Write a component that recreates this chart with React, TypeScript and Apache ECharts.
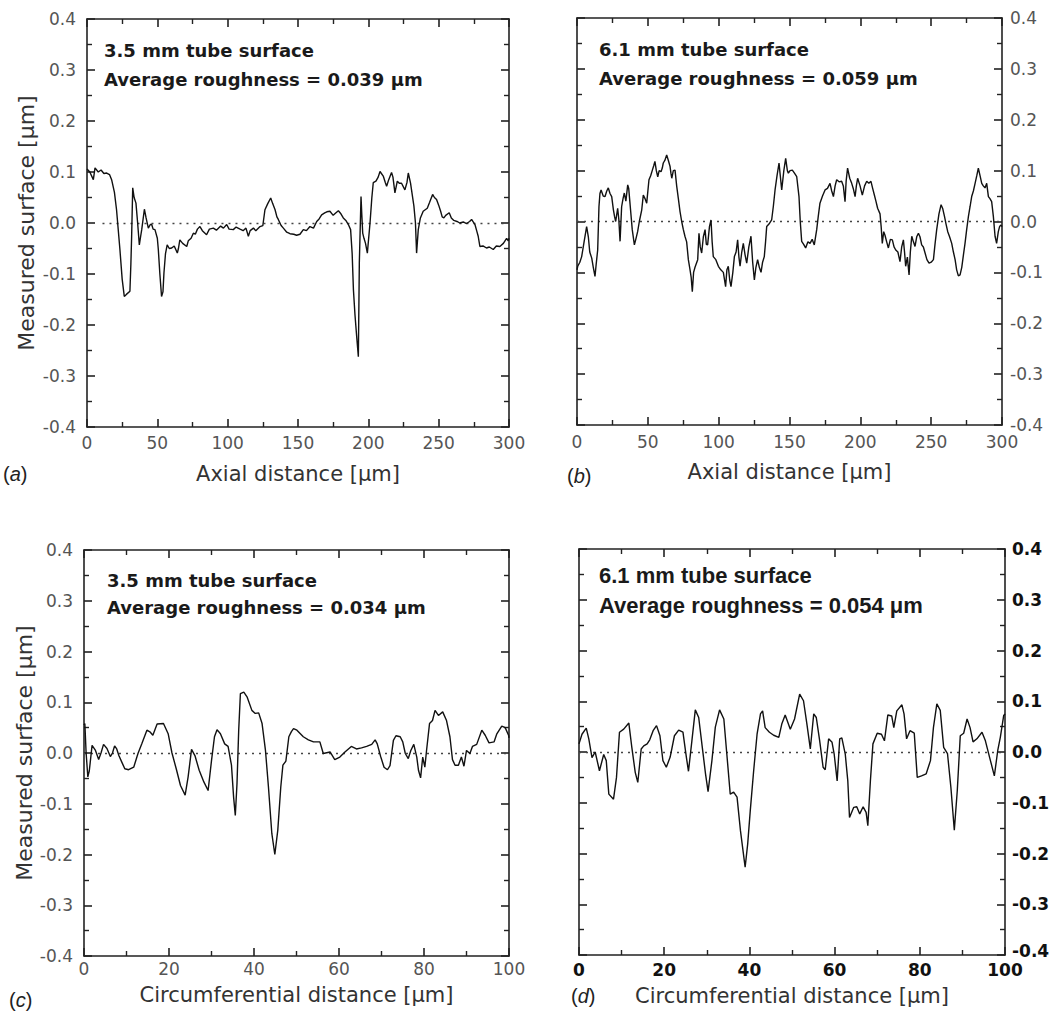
import React, { useEffect, useRef } from "react";
import * as echarts from "echarts";

// ---------- DATA ----------
// (a) 3.5 mm tube, axial profile: [distance µm, height µm]
const profileA: number[][] = [
  [0, 0.106], [2, 0.1], [4.5, 0.085], [5.7, 0.108], [8, 0.1], [10, 0.104], [12, 0.097], [14, 0.098], [16, 0.095],
  [17.5, 0.085], [19.5, 0.06], [21, 0.026], [23.4, -0.052], [25, -0.11], [26.5, -0.144], [28, -0.14], [30.5, -0.134],
  [31.2, -0.08], [31.7, -0.03], [32.5, 0.069], [33.5, 0.05], [34.8, 0.039], [36, 0.0], [37.2, -0.043], [38.2, -0.025],
  [38.9, -0.013], [40.8, 0.027], [42, 0.01], [43.6, -0.01], [45, -0.003], [46, -0.003], [47, -0.012], [48.3, -0.013],
  [50, -0.03], [50.7, -0.052], [51.8, -0.1], [53, -0.144], [54, -0.135], [54.7, -0.098], [55.8, -0.06], [57, -0.043],
  [58.5, -0.05], [60.2, -0.049], [62, -0.045], [64.2, -0.059], [65, -0.05], [66, -0.033], [68, -0.04], [70.9, -0.046],
  [72, -0.035], [74, -0.03], [75.6, -0.02], [77, -0.022], [78.5, -0.012], [80.3, -0.007], [82, -0.015], [85, -0.023],
  [87, -0.012], [89.8, -0.01], [92, -0.014], [95, -0.006], [97, -0.01], [99.3, -0.003], [101, -0.012], [104, -0.013],
  [106, -0.008], [108.8, -0.012], [111, -0.015], [113, -0.01], [114.7, -0.026], [116, -0.015], [118.3, -0.01],
  [120, -0.015], [123, -0.007], [125, -0.005], [126.5, 0.026], [128.5, 0.038], [130.6, 0.049], [132, 0.038],
  [133.7, 0.026], [135, 0.012], [136, 0.007], [138, -0.005], [139.6, -0.01], [142, -0.018], [144.3, -0.021],
  [147, -0.022], [149, -0.024], [151.4, -0.022], [153.8, -0.013], [156, -0.015], [158.5, -0.007], [161, -0.01],
  [163.3, 0.003], [165, 0.008], [166.8, 0.016], [169, 0.02], [170.5, 0.022], [172.7, 0.023], [175, 0.015], [177, 0.02],
  [178.7, 0.024], [180.5, 0.018], [182.2, 0.01], [184, 0.005], [185.8, -0.003], [187.4, -0.013], [188.5, -0.06],
  [189.4, -0.131], [190.5, -0.18], [191.7, -0.222], [192.9, -0.262], [193.6, -0.078], [194.8, 0.052], [195.3, 0.02],
  [196, -0.02], [196.9, -0.03], [198, -0.04], [199.3, -0.059], [201.2, 0.0], [202.5, 0.05], [203.5, 0.079],
  [205.4, 0.082], [207, 0.09], [208.3, 0.101], [210.6, 0.092], [212, 0.08], [213, 0.072], [214.5, 0.085],
  [216.5, 0.099], [217.5, 0.09], [218.9, 0.059], [220.6, 0.082], [222, 0.078], [223.6, 0.078], [226, 0.065],
  [227.5, 0.08], [228.4, 0.098], [230, 0.078], [232.4, 0.033], [233.5, 0.0], [234.3, -0.059], [235.5, -0.013],
  [237, 0.01], [239, 0.023], [241.9, 0.029], [243.5, 0.04], [245.7, 0.056], [247, 0.05], [248.5, 0.046], [250, 0.035],
  [251.4, 0.023], [252.5, 0.012], [253.7, 0.01], [255, 0.015], [257.5, 0.02], [259, 0.01], [260.8, 0.005],
  [263, 0.003], [265, 0.0], [267.5, 0.002], [269.8, -0.001], [272, 0.003], [273.4, 0.007], [275.8, -0.003],
  [277, -0.015], [278.1, -0.026], [279.3, -0.046], [281.5, -0.045], [284, -0.049], [286, -0.047], [288.8, -0.052],
  [291, -0.045], [293.5, -0.046], [296, -0.04], [298.3, -0.03], [299.5, -0.035], [300, -0.03],
];

// (b) 6.1 mm tube, axial profile
const profileB: number[][] = [
  [0, -0.095], [0.5, -0.088], [2, -0.08], [3.3, -0.069], [5, -0.04], [6.8, -0.01], [8, -0.03], [9, -0.06],
  [10.4, -0.072], [11.5, -0.09], [12.7, -0.108], [13.5, -0.085], [14.6, -0.056], [15.5, 0.029], [16.2, 0.055],
  [17, 0.062], [18.5, 0.05], [19.8, 0.049], [21, 0.06], [22.1, 0.066], [23.3, 0.055], [24.5, 0.049], [25.7, 0.023],
  [26.5, 0.01], [27.3, 0.0], [28.7, 0.026], [29.5, 0.005], [30.4, -0.039], [31.5, 0.029], [32.5, 0.045],
  [33.4, 0.056], [34.5, 0.04], [35.8, 0.072], [36.5, 0.065], [37.4, 0.036], [39, -0.016], [40.5, -0.046],
  [41.5, -0.035], [42.8, -0.02], [44, 0.0], [45.7, 0.023], [46.8, 0.052], [48, 0.045], [49.2, 0.036], [50.8, 0.082],
  [52, 0.09], [53.2, 0.101], [54.2, 0.11], [55, 0.118], [56, 0.1], [57, 0.088], [58, 0.1], [59.3, 0.098],
  [60.2, 0.105], [60.9, 0.115], [62, 0.12], [63.3, 0.131], [64.5, 0.12], [65.7, 0.108], [66.3, 0.095], [66.9, 0.085],
  [68, 0.1], [69.2, 0.101], [70.4, 0.069], [71.5, 0.046], [72.7, 0.02], [73.9, 0.0], [75, -0.015], [76.2, -0.029],
  [77.4, -0.04], [78.6, -0.075], [79.8, -0.095], [80.6, -0.11], [81.4, -0.138], [82.3, -0.1], [83.3, -0.09],
  [85.2, -0.075], [86.1, -0.023], [87, -0.05], [88, -0.062], [89.2, -0.03], [90.4, -0.016], [91.3, -0.045],
  [92.2, -0.046], [93.5, -0.01], [94.6, 0.003], [95.4, -0.04], [96.2, -0.069], [98, -0.075], [99.8, -0.088],
  [101.5, -0.095], [103.3, -0.1], [104.9, -0.128], [105.8, -0.095], [106.8, -0.088], [107.8, -0.115],
  [108.7, -0.128], [110, -0.1], [111.1, -0.069], [112.3, -0.06], [113.4, -0.036], [114.3, -0.07], [115.1, -0.088],
  [116.3, -0.06], [117.4, -0.043], [118.6, -0.065], [119.8, -0.082], [121.3, -0.05], [122.8, -0.029], [124, -0.08],
  [125.2, -0.115], [126.3, -0.09], [127.5, -0.075], [128.7, -0.09], [129.9, -0.1], [131, -0.08], [132.2, -0.069],
  [133.1, -0.04], [133.9, -0.01], [135.5, -0.005], [137.4, 0.003], [138.6, 0.03], [139.8, 0.062], [141.2, 0.09],
  [142.6, 0.115], [143.5, 0.09], [144.5, 0.062], [146, 0.1], [147.3, 0.124], [148.5, 0.1], [149.2, 0.095],
  [150.4, 0.1], [152, 0.101], [153.5, 0.095], [155.1, 0.088], [156.7, 0.049], [157.6, 0.0], [158.6, -0.039],
  [160, -0.045], [161.4, -0.052], [163, -0.04], [164.5, -0.043], [166, -0.035], [167.5, -0.046], [169.2, -0.016],
  [170.3, 0.01], [171.5, 0.036], [173.3, 0.05], [175.1, 0.062], [176.8, 0.065], [178.6, 0.075], [179.8, 0.06],
  [181, 0.049], [182.2, 0.07], [183.3, 0.082], [185, 0.078], [186.8, 0.079], [188, 0.07], [189.2, 0.039], [190, 0.08],
  [191, 0.105], [192.5, 0.085], [193.9, 0.075], [195, 0.065], [196.3, 0.049], [197.2, 0.07], [198.1, 0.085],
  [199.8, 0.07], [201.4, 0.052], [203, 0.07], [204.5, 0.079], [206, 0.075], [207.5, 0.079], [208.7, 0.065],
  [209.9, 0.052], [211, 0.04], [212.2, 0.026], [213.9, 0.015], [214.7, -0.01], [215.5, -0.043], [216.5, -0.02],
  [217.4, -0.027], [218.6, -0.04], [219.8, -0.052], [221.2, -0.035], [222.6, -0.036], [223.8, -0.05], [225, -0.056],
  [226.5, -0.06], [228, -0.079], [229.2, -0.05], [230.4, -0.036], [231.2, -0.06], [232, -0.088], [233.2, -0.07],
  [234.4, -0.105], [235.3, -0.06], [236.3, -0.029], [237.5, -0.04], [238.6, -0.049], [239.8, -0.03], [241, -0.023],
  [242.1, -0.03], [243.3, -0.046], [244.5, -0.05], [245.7, -0.062], [247, -0.075], [248.5, -0.082], [250, -0.08],
  [251.6, -0.075], [252.7, -0.045], [253.9, -0.016], [255.5, 0.015], [257, 0.033], [258.2, 0.025], [259.4, 0.01],
  [260.5, -0.005], [261.7, -0.02], [263, -0.03], [264.5, -0.043], [265.7, -0.06], [266.9, -0.075], [268, -0.095],
  [269.2, -0.107], [270.4, -0.105], [271.6, -0.09], [272.8, -0.065], [273.9, -0.043], [275.1, -0.015], [276.3, 0.01],
  [277.5, 0.03], [278.6, 0.049], [279.8, 0.06], [281, 0.075], [282.2, 0.09], [283.3, 0.105], [284.5, 0.09],
  [285.7, 0.075], [286.8, 0.07], [288, 0.066], [289.2, 0.075], [290.4, 0.049], [291.5, 0.045], [292.7, 0.039],
  [293.9, 0.01], [295.1, -0.029], [296.2, -0.043], [297.4, -0.02], [298.3, -0.01], [299.3, -0.007], [300, -0.01],
];

// (c) 3.5 mm tube, circumferential profile
const profileC: number[][] = [
  [0, 0.055], [0.2, 0.058], [0.5, 0.0], [0.9, -0.047], [1.25, -0.035], [1.9, 0.015], [2.7, 0.005], [3.45, -0.013],
  [4.0, 0.0], [4.6, 0.017], [5.4, 0.009], [6.2, -0.007], [6.7, 0.0], [7.2, 0.014], [7.7, 0.008], [8.2, -0.005],
  [9, -0.02], [9.6, -0.031], [10.5, -0.033], [11.7, -0.028], [12.7, -0.001], [13.6, 0.018], [14.8, 0.045],
  [15.6, 0.041], [16.2, 0.035], [17.2, 0.057], [18.7, 0.058], [19.8, 0.038], [20.7, 0.0], [21.7, -0.031],
  [22.7, -0.064], [23.8, -0.083], [24.5, -0.047], [25.3, 0.007], [26.1, -0.005], [27.1, -0.034], [28.2, -0.057],
  [29.2, -0.074], [30, -0.015], [30.7, 0.032], [31.3, 0.046], [32.1, 0.038], [33.1, 0.018], [33.9, 0.013],
  [34.7, -0.024], [35.2, -0.087], [35.6, -0.123], [36, -0.06], [36.4, 0.045], [36.8, 0.117], [37.6, 0.12],
  [38.4, 0.11], [39.5, 0.084], [40.3, 0.078], [41.1, 0.079], [41.9, 0.058], [42.7, 0.005], [43.4, -0.067],
  [44.2, -0.159], [44.9, -0.2], [45.6, -0.152], [46.3, -0.067], [46.8, -0.024], [47.5, -0.016], [48.2, 0.032],
  [48.8, 0.042], [49.3, 0.048], [50.1, 0.045], [51.6, 0.032], [52.8, 0.026], [54, 0.022], [55.5, 0.022],
  [56.3, -0.001], [57.9, 0.002], [59, -0.013], [60.2, -0.008], [61.4, 0.002], [62.9, 0.013], [64.1, 0.008],
  [65.3, 0.01], [66.5, 0.013], [67.7, 0.017], [68.5, 0.026], [69, 0.018], [69.8, -0.007], [70.6, -0.028],
  [71.4, -0.033], [72, -0.025], [72.8, 0.025], [73.4, 0.034], [74.4, 0.032], [75, 0.022], [75.6, -0.001],
  [76.3, -0.011], [76.9, 0.005], [77.6, 0.017], [78.3, -0.008], [78.7, -0.034], [79.2, -0.049], [79.7, -0.008],
  [80.2, -0.028], [80.6, 0.005], [81.3, 0.058], [82, 0.064], [82.6, 0.084], [83.4, 0.074], [84.4, 0.081],
  [85.3, 0.064], [86.1, 0.032], [86.7, -0.013], [87.3, -0.024], [88.1, -0.024], [88.8, -0.008], [89.4, -0.026],
  [90, 0.005], [90.8, -0.001], [91.4, 0.013], [92.4, 0.017], [93.6, 0.045], [94.4, 0.035], [95.3, 0.02],
  [96.5, 0.022], [97.1, 0.037], [98.3, 0.053], [99.1, 0.05], [99.9, 0.035], [100, 0.03],
];

// (d) 6.1 mm tube, circumferential profile
const profileD: number[][] = [
  [0, 0.016], [0.7, 0.035], [1.7, 0.047], [2.3, 0.026], [3.05, -0.011], [3.8, 0.0], [4.8, -0.037], [5.8, -0.005],
  [6.4, -0.017], [7.0, -0.083], [8.1, -0.093], [8.8, -0.05], [9.5, 0.039], [10.5, 0.045], [11.7, 0.057],
  [12.4, 0.009], [13.2, -0.04], [13.8, -0.06], [14.6, 0.006], [15.2, 0.012], [16, 0.016], [16.6, 0.024],
  [17.4, 0.042], [18.2, 0.052], [19, 0.032], [19.7, -0.017], [20.5, -0.03], [21.4, -0.01], [22.4, 0.032],
  [23.4, 0.043], [24.4, 0.039], [25.2, -0.01], [25.7, -0.038], [26.5, 0.022], [27.3, 0.083], [28.1, 0.068],
  [28.9, 0.012], [29.7, -0.043], [30.3, -0.078], [31.2, -0.017], [32, 0.049], [33, 0.083], [34, 0.065],
  [34.7, -0.004], [35.5, -0.083], [36.3, -0.079], [37.1, -0.089], [37.9, -0.155], [38.8, -0.214], [39, -0.227],
  [39.6, -0.181], [40.2, -0.116], [41, -0.037], [41.8, 0.035], [42.6, 0.075], [43.1, 0.081], [43.7, 0.048],
  [44.7, 0.039], [45.7, 0.033], [46.9, 0.029], [47.6, 0.055], [48.4, 0.073], [49.6, 0.045], [50.6, 0.065],
  [51.8, 0.114], [52.7, 0.101], [53.5, 0.055], [54.3, 0.006], [55.1, 0.075], [55.7, 0.068], [56.5, 0.022],
  [57.3, -0.03], [57.8, -0.035], [58.6, 0.026], [59.4, 0.019], [59.9, -0.004], [60.6, -0.057], [61.2, 0.026],
  [61.7, 0.028], [62.5, -0.004], [63.1, -0.057], [63.5, -0.129], [64.5, -0.109], [65.2, -0.108], [65.9, -0.122],
  [66.7, -0.108], [67.4, -0.119], [67.8, -0.145], [68.4, -0.057], [69, 0.016], [70, 0.037], [71, 0.035],
  [71.7, 0.022], [72.5, 0.073], [73.4, 0.071], [73.9, 0.048], [74.6, 0.081], [75.8, 0.093], [76.3, 0.075],
  [76.9, 0.026], [77.7, 0.042], [78.7, 0.037], [79.4, -0.05], [80.4, -0.047], [81.5, -0.043], [82.5, -0.017],
  [83.2, 0.048], [84, 0.095], [84.8, 0.082], [85.6, 0.009], [86.5, -0.003], [87.3, -0.07], [88.1, -0.154],
  [88.8, -0.076], [89.5, 0.032], [90.3, 0.037], [91.1, 0.065], [91.8, 0.048], [92.5, 0.02], [93.4, 0.026],
  [94.6, 0.039], [95.4, 0.022], [96.4, -0.011], [97.5, -0.047], [98.3, 0.003], [98.9, 0.029], [99.7, 0.072],
  [100, 0.075],
];

const yRange = [-0.4, 0.4];
const yStep = 0.1;
const panelTags = ["a", "b", "c", "d"];
const panelHeadings = ["3.5 mm tube surface", "6.1 mm tube surface", "3.5 mm tube surface", "6.1 mm tube surface"];
const panelRoughness = ["0.039", "0.059", "0.034", "0.054"];
const xTitles = ["Axial distance [μm]", "Axial distance [μm]", "Circumferential distance [μm]", "Circumferential distance [μm]"];
const yTitle = "Measured surface [μm]";

// ---------- LAYOUT ----------
const FONT = "'DejaVu Sans', sans-serif";
const ARIAL = "'Liberation Sans', Arial, sans-serif";

const layout = [
  { data: profileA, xMax: 300, xStep: 50, grid: { left: 87, top: 19, width: 422, height: 408 }, ySide: "left", showYTitle: true,
    xNameGap: 36, yNameGap: 50, xLabelMargin: 7, yLabelMargin: 11, bold: false, zeroFrom: 11,
    textX: 104, textY: [50, 79], tagPos: [3, 474] },
  { data: profileB, xMax: 300, xStep: 50, grid: { left: 577, top: 18, width: 425, height: 407 }, ySide: "right", showYTitle: false,
    xNameGap: 36, yNameGap: 50, xLabelMargin: 8, yLabelMargin: 8, bold: false, zeroFrom: 0,
    textX: 599, textY: [49, 78], tagPos: [567, 476] },
  { data: profileC, xMax: 100, xStep: 20, grid: { left: 84, top: 550, width: 425, height: 406 }, ySide: "left", showYTitle: true,
    xNameGap: 28, yNameGap: 47, xLabelMargin: 4, yLabelMargin: 11, bold: false, zeroFrom: 0,
    textX: 107, textY: [580, 607], tagPos: [9, 1000] },
  { data: profileD, xMax: 100, xStep: 20, grid: { left: 579, top: 549, width: 426, height: 406 }, ySide: "right", showYTitle: false,
    xNameGap: 30, yNameGap: 50, xLabelMargin: 6, yLabelMargin: 7, bold: true, zeroFrom: 0,
    textX: 599, textY: [575, 605], tagPos: [571, 996] },
];

const AXIS_COLOR = "#222";

function fmtY(v: number) {
  if (Math.abs(v) < 1e-9) return "0.0";
  return v.toFixed(1);
}

function buildOption() {
  const grid: any[] = [];
  const xAxis: any[] = [];
  const yAxis: any[] = [];
  const series: any[] = [];
  const graphic: any[] = [];

  layout.forEach((p, i) => {
    grid.push({ ...p.grid, containLabel: false, outerBoundsMode: "none" });

    const labelStyle = p.bold
      ? { fontFamily: FONT, fontSize: 17, fontWeight: "bold", color: "#111" }
      : { fontFamily: FONT, fontSize: 17, fontWeight: "normal", color: "#555" };

    const common = {
      axisLine: { show: true, onZero: false, lineStyle: { color: AXIS_COLOR, width: 1.6 } },
      axisTick: { show: true, inside: true, length: 8, lineStyle: { color: AXIS_COLOR, width: 1.6 } },
      minorTick: { show: true, splitNumber: 2, length: 5, lineStyle: { color: AXIS_COLOR, width: 1.4 } },
      splitLine: { show: false },
      minorSplitLine: { show: false },
    };

    // bottom (labelled) x axis
    xAxis.push({
      type: "value", gridIndex: i, position: "bottom", min: 0, max: p.xMax, interval: p.xStep,
      ...common,
      axisLabel: { show: true, margin: p.xLabelMargin, ...labelStyle },
      name: xTitles[i], nameLocation: "middle", nameGap: p.xNameGap,
      nameTextStyle: { fontFamily: FONT, fontSize: 21, color: "#333" },
    });
    // top mirror x axis
    xAxis.push({
      type: "value", gridIndex: i, position: "top", min: 0, max: p.xMax, interval: p.xStep,
      ...common, axisLabel: { show: false },
    });

    // labelled y axis
    const yLabelRich = { lift: { padding: [0, 0, 8, 0] } };
    yAxis.push({
      type: "value", gridIndex: i, position: p.ySide, min: yRange[0], max: yRange[1], interval: yStep,
      ...common,
      axisLabel: {
        show: true, margin: p.yLabelMargin, ...labelStyle,
        formatter: (v: number) => (p.bold && v <= yRange[0] + 1e-9 ? `{lift|${fmtY(v)}}` : fmtY(v)),
        rich: { lift: { ...labelStyle, padding: [0, 0, 8, 0] } },
      },
      name: p.showYTitle ? yTitle : "", nameLocation: "middle", nameGap: p.yNameGap,
      nameTextStyle: { fontFamily: FONT, fontSize: 22, color: "#333" },
    });
    // mirror y axis
    yAxis.push({
      type: "value", gridIndex: i, position: p.ySide === "left" ? "right" : "left",
      min: yRange[0], max: yRange[1], interval: yStep,
      ...common, axisLabel: { show: false },
    });

    series.push({
      type: "line",
      xAxisIndex: i * 2,
      yAxisIndex: i * 2,
      data: p.data,
      showSymbol: false,
      symbol: "none",
      lineStyle: { color: "#111", width: 1.4 },
      z: 3,
      markLine: {
        silent: true,
        symbol: ["none", "none"],
        label: { show: false },
        lineStyle: { color: "#444", width: 1.4, type: [2, 5] },
        data: [[{ coord: [p.zeroFrom, 0] }, { coord: [p.xMax, 0] }]],
        z: 2,
      },
    });

    // annotation text
    const annFont = p.bold
      ? { fontFamily: ARIAL, fontSize: 22, fontWeight: "bold" }
      : { fontFamily: FONT, fontSize: 18, fontWeight: "bold" };
    graphic.push({
      type: "text", x: p.textX, y: p.textY[0], silent: true,
      style: { text: panelHeadings[i], ...annFont, fill: "#1a1a1a", align: "left", verticalAlign: "middle" },
    });
    graphic.push({
      type: "text", x: p.textX, y: p.textY[1], silent: true,
      style: { text: `Average roughness = ${panelRoughness[i]} μm`, ...annFont, fill: "#1a1a1a", align: "left", verticalAlign: "middle" },
    });
    // panel tag (a)..(d)
    graphic.push({
      type: "text", x: p.tagPos[0], y: p.tagPos[1], silent: true,
      style: {
        text: `{p|(}{i|${panelTags[i]}}{p|)}`,
        align: "left", verticalAlign: "middle",
        rich: {
          p: { fontFamily: ARIAL, fontSize: 20, fill: "#222", color: "#222" },
          i: { fontFamily: ARIAL, fontSize: 20, fontStyle: "italic", fill: "#222", color: "#222" },
        },
      },
    });
  });

  return {
    animation: false,
    backgroundColor: "#ffffff",
    grid, xAxis, yAxis, series, graphic,
  };
}

export default function App() {
  const ref = useRef<HTMLDivElement>(null);
  useEffect(() => {
    if (!ref.current) return;
    const chart = echarts.init(ref.current, null, { renderer: "svg" });
    chart.setOption(buildOption() as any);
    return () => chart.dispose();
  }, []);
  return (
    <div
      ref={ref}
      style={{ position: "absolute", left: 0, top: 0, width: 1052, height: 1013, background: "#fff" }}
    />
  );
}
